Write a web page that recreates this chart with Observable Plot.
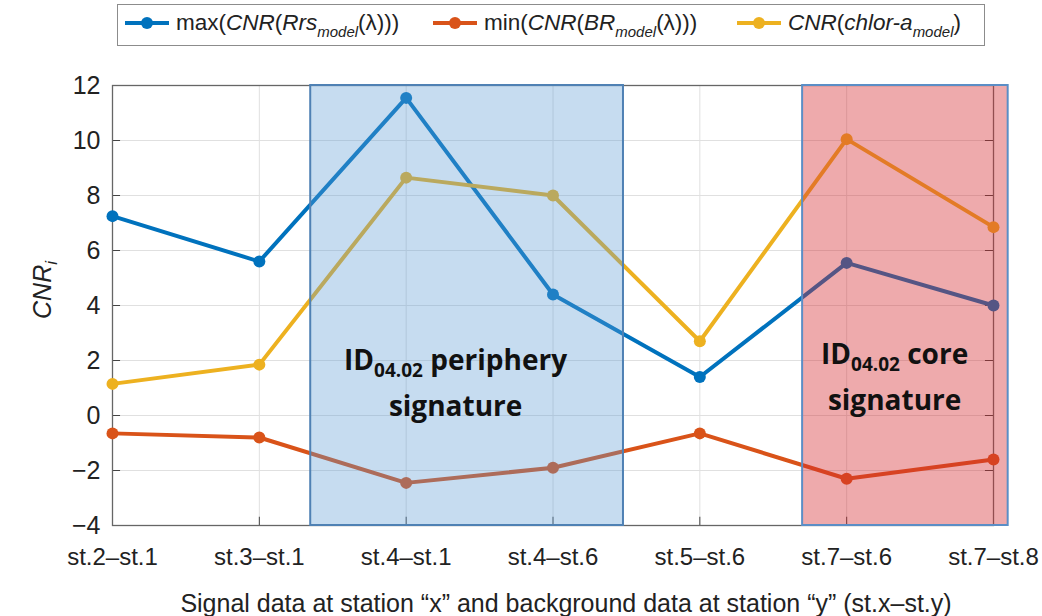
<!DOCTYPE html>
<html>
<head>
<meta charset="utf-8">
<script src="https://cdn.jsdelivr.net/npm/d3@7"></script>
<script src="https://cdn.jsdelivr.net/npm/@observablehq/plot@0.6"></script>
<style>
  body { margin: 0; background: #fff; }
  #wrap { position: relative; width: 1042px; height: 616px; font-family: "Liberation Sans", Arial, sans-serif; }
  #legend { position: absolute; left: 117px; top: 4px; width: 866px; height: 40px; border: 1px solid #8c8c8c; background: #fff; z-index: 2; }
  .item { position: absolute; top: -2px; height: 40px; display: flex; align-items: center; font-size: 22.5px; color: #222; white-space: nowrap; }
  .item svg { margin-right: 6px; }
  .item sub { font-size: 15px; font-style: italic; vertical-align: -7px; line-height: 0; }
</style>
</head>
<body>
<div id="wrap">
  <div id="legend"></div>
  <div id="chart"></div>
</div>
<script>
const labels = ["st.2–st.1", "st.3–st.1", "st.4–st.1", "st.4–st.6", "st.5–st.6", "st.7–st.6", "st.7–st.8"];
const maxRrs = [7.25, 5.6, 11.55, 4.4, 1.4, 5.55, 4.0];
const minBR = [-0.65, -0.8, -2.45, -1.9, -0.65, -2.3, -1.6];
const chlA = [1.15, 1.85, 8.65, 8.0, 2.7, 10.05, 6.85];
const yTicks = [-4, -2, 0, 2, 4, 6, 8, 10, 12];
const seriesNames = ["max", "min", "chl"];
const seriesColors = ["#0072BD", "#D95319", "#EDB120"];
const regionX1 = [1.35, 4.70];
const regionX2 = [3.48, 6.10];

const idx = d3.range(labels.length);
const rows = [];
[maxRrs, minBR, chlA].forEach((vals, s) => vals.forEach((v, i) => rows.push({series: seriesNames[s], i, v})));
const regions = [
  {x1: regionX1[0], x2: regionX2[0], fill: "#5b9bd5", opacity: 0.35, stroke: "#4f81b4"},
  {x1: regionX1[1], x2: regionX2[1], fill: "#d42a30", opacity: 0.40, stroke: "#5b8ec6"}
];

const plot = Plot.plot({
  width: 1042,
  height: 616,
  marginLeft: 112,
  marginRight: 49,
  marginTop: 85,
  marginBottom: 91,
  style: {fontFamily: "'Liberation Sans', Arial, sans-serif", background: "transparent"},
  x: {domain: [0, labels.length - 1], axis: null},
  y: {domain: [-4, 12], axis: null},
  color: {domain: seriesNames, range: seriesColors},
  marks: [
    Plot.ruleX(idx, {x: d => d, y1: -4, y2: 12, stroke: "#e0e0e0", strokeWidth: 1}),
    Plot.ruleY(yTicks, {y: d => d, x1: 0, x2: labels.length - 1, stroke: "#e0e0e0", strokeWidth: 1}),
    Plot.ruleY(yTicks, {y: d => d, x1: 0, x2: 0.055, stroke: "#444"}),
    Plot.ruleY(yTicks, {y: d => d, x1: labels.length - 1 - 0.055, x2: labels.length - 1, stroke: "#444"}),
    Plot.ruleX(idx, {x: d => d, y1: -4, y2: -3.7, stroke: "#444"}),
    Plot.frame({stroke: "#666", strokeWidth: 1.3}),
    Plot.line(rows, {x: "i", y: "v", z: "series", stroke: "series", strokeWidth: 4}),
    Plot.dot(rows, {x: "i", y: "v", fill: "series", r: 6}),
    Plot.rect(regions, {x1: "x1", x2: "x2", y1: -4, y2: 12, fill: "fill", fillOpacity: "opacity", stroke: "stroke", strokeWidth: 2}),
    Plot.axisX(idx, {tickFormat: i => labels[i], tickSize: 0, tickPadding: 22, fontSize: 24, label: null, fill: "#222"}),
    Plot.axisY(yTicks, {tickSize: 0, tickPadding: 12, fontSize: 25, label: null, fill: "#222"})
  ]
});
document.getElementById("chart").appendChild(plot);

const svg = d3.select(plot);
const xs = plot.scale("x"), ys = plot.scale("y");
const font = "'Open Sans', sans-serif";

function annot(cx, y1, y2, word) {
  const px = xs.apply(cx);
  const t = svg.append("text").attr("x", px).attr("y", ys.apply(y1))
    .attr("text-anchor", "middle").attr("font-family", font).attr("font-weight", "bold")
    .attr("font-size", 28).attr("fill", "#111");
  t.append("tspan").text("ID");
  t.append("tspan").attr("dy", 7).attr("font-size", 19).text("04.02");
  t.append("tspan").attr("dy", -7).text(" " + word);
  svg.append("text").attr("x", px).attr("y", ys.apply(y2))
    .attr("text-anchor", "middle").attr("font-family", font).attr("font-weight", "bold")
    .attr("font-size", 28).attr("fill", "#111").text("signature");
}
annot(2.34, 1.62, -0.02, "periphery");
annot(5.33, 1.84, 0.20, "core");

// axis titles
svg.append("text").attr("x", 566).attr("y", 612).attr("text-anchor", "middle")
  .attr("font-size", 25).attr("fill", "#222").text("Signal data at station “x” and background data at station “y” (st.x–st.y)");
const yl = svg.append("text").attr("transform", "translate(51,290) rotate(-90)").attr("text-anchor", "middle")
  .attr("font-size", 25).attr("fill", "#222");
yl.append("tspan").attr("font-style", "italic").text("CNR");
yl.append("tspan").attr("font-style", "italic").attr("font-size", 17).attr("dy", 6).text("i");

// legend
const legendItems = [
  {left: 6, html: "max(<i>CNR</i>(<i>Rrs</i><sub>model</sub>(λ)))"},
  {left: 314, html: "min(<i>CNR</i>(<i>BR</i><sub>model</sub>(λ)))"},
  {left: 618, html: "<i>CNR</i>(<i>chlor-a</i><sub>model</sub>)"}
];
const leg = document.getElementById("legend");
legendItems.forEach((it, k) => {
  const d = document.createElement("div");
  d.className = "item";
  d.style.left = it.left + "px";
  d.innerHTML = `<svg width="46" height="14"><line x1="1" y1="7" x2="45" y2="7" stroke="${seriesColors[k]}" stroke-width="4"/><circle cx="23" cy="7" r="6" fill="${seriesColors[k]}"/></svg><span>${it.html}</span>`;
  leg.appendChild(d);
});
</script>
</body>
</html>
